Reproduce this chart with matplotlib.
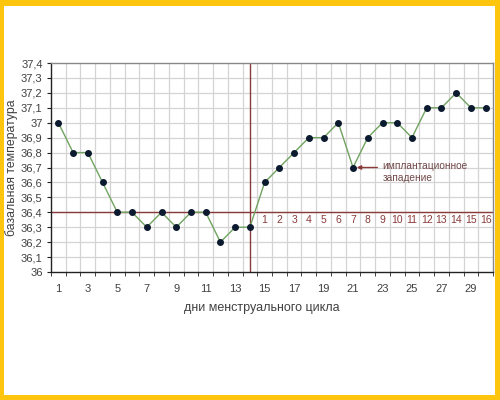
import matplotlib
matplotlib.use('Agg')
import matplotlib.pyplot as plt
from matplotlib.patches import Rectangle

plt.rcParams['font.family'] = ['Liberation Sans', 'DejaVu Sans']

# basal temperature by cycle day
days = list(range(1, 31))
temps = [37.0, 36.8, 36.8, 36.6, 36.4, 36.4, 36.3, 36.4, 36.3, 36.4,
         36.4, 36.2, 36.3, 36.3, 36.6, 36.7, 36.8, 36.9, 36.9, 37.0,
         36.7, 36.9, 37.0, 37.0, 36.9, 37.1, 37.1, 37.2, 37.1, 37.1]
y_ticks = [36.0, 36.1, 36.2, 36.3, 36.4, 36.5, 36.6, 36.7, 36.8, 36.9,
           37.0, 37.1, 37.2, 37.3, 37.4]
y_labels = ['36', '36,1', '36,2', '36,3', '36,4', '36,5', '36,6', '36,7',
            '36,8', '36,9', '37', '37,1', '37,2', '37,3', '37,4']
x_labels = [str(d) for d in range(1, 30, 2)]
coverline = 36.4
ovulation_day = 14
phase_days = list(range(15, 31))
phase_labels = [str(i) for i in range(1, 17)]
dip_day = 21
dip_text = 'имплантационное\nзападение'

red = '#8b3a3a'
txt = '#404040'

fig = plt.figure(figsize=(5, 4), dpi=100)
fig.patch.set_facecolor('#fec50f')
fig.add_artist(Rectangle((4 / 500, 5 / 400), 491 / 500, 389 / 400,
                         transform=fig.transFigure, facecolor='white',
                         edgecolor='none', zorder=0))

ax = fig.add_axes([51 / 500, 128 / 400, 442 / 500, 209 / 400])
ax.set_facecolor('white')

ax.set_xlim(0.5, 30.5)
ax.set_ylim(36.0, 37.4)

# grid
for b in range(1, 30):
    ax.axvline(b + 0.5, color='#d4d4d4', lw=0.9, zorder=1)
for t in y_ticks[1:-1]:
    ax.axhline(t, color='#d4d4d4', lw=0.9, zorder=1)

ax.axhline(coverline, color=red, lw=1.0, zorder=2)
ax.axvline(ovulation_day, color=red, lw=1.0, zorder=2)

ax.plot(days, temps, color='#6fa35f', lw=1.0, zorder=3)
ax.plot(days, temps, ls='none', marker='o', ms=4, color='#0c1a30', zorder=4)

for d, lab in zip(phase_days, phase_labels):
    ax.text(d, 36.35, lab, ha='center', va='center', fontsize=7.5, color=red, zorder=5)

ax.annotate('', xy=(dip_day + 0.25, 36.7), xytext=(dip_day + 1.65, 36.7),
            arrowprops=dict(arrowstyle='-|>', color=red, lw=1.0,
                            mutation_scale=6, shrinkA=0, shrinkB=0), zorder=5)
ax.text(dip_day + 2.0, 36.67, dip_text, ha='left', va='center', fontsize=7.3,
        color='#704848', linespacing=1.25, zorder=5)

ax.set_yticks(y_ticks)
ax.set_yticklabels(y_labels)
ax.set_xticks(range(1, 30, 2))
ax.set_xticklabels(x_labels)
ax.set_xticks([b + 0.5 for b in range(0, 31)], minor=True)
ax.tick_params(axis='x', which='major', length=0, pad=9, labelsize=8, colors=txt)
ax.tick_params(axis='x', which='minor', length=3, direction='out', color='#222222')
ax.tick_params(axis='y', which='major', length=3, direction='out', pad=3,
               labelsize=8, colors=txt, color='#222222')

for s in ['left', 'bottom']:
    ax.spines[s].set_color('#222222')
    ax.spines[s].set_linewidth(1.0)
for s in ['top', 'right']:
    ax.spines[s].set_color('#888888')
    ax.spines[s].set_linewidth(1.0)

ax.set_ylabel('базальная температура', fontsize=8.8, color=txt)
ax.yaxis.set_label_coords(-0.074, 0.5)
ax.set_xlabel('дни менструального цикла', fontsize=9, color=txt)
ax.xaxis.set_label_coords(0.477, -0.145)

fig.savefig('out.png', dpi=100, facecolor=fig.get_facecolor())
